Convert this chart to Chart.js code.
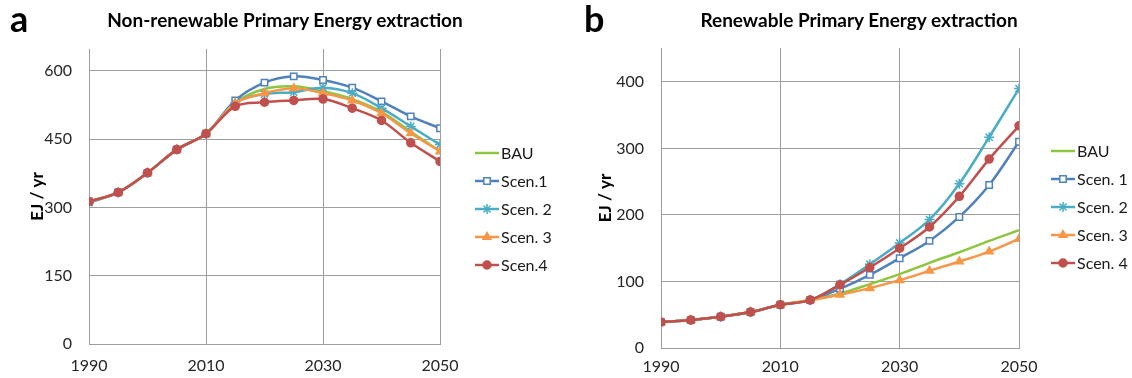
<!DOCTYPE html>
<html>
<head>
<meta charset="utf-8">
<script src="https://cdn.jsdelivr.net/npm/chart.js@4/dist/chart.umd.min.js"></script>
<style>
    body { margin: 0; background: #fff; font-family: Lato, sans-serif; }
    #page { position: relative; width: 1132px; height: 378px; overflow: hidden; }
    .panel { position: absolute; top: 0; height: 378px; }
    .letter { position: absolute; top: 0; font-size: 36px; line-height: 1; font-weight: bold; color: #000; }
    .title { position: absolute; top: 10px; font-size: 19px; line-height: 1; font-weight: bold; color: #000; white-space: nowrap; transform: translateX(-50%); }
</style>
</head>
<body>
<div id="page">
    <div class="panel" style="left:0;width:560px"><canvas id="nonrenew" width="560" height="378"></canvas></div>
    <div class="panel" style="left:560px;width:572px"><canvas id="renew" width="572" height="378"></canvas></div>
    <div class="letter" style="left:10px">a</div>
    <div class="letter" style="left:584px">b</div>
    <div class="title" style="left:285px">Non-renewable Primary Energy extraction</div>
    <div class="title" style="left:859px">Renewable Primary Energy extraction</div>
</div>
<script>
// years on the x axis (every 5 years)
let years = [1990, 1995, 2000, 2005, 2010, 2015, 2020, 2025, 2030, 2035, 2040, 2045, 2050]
let xTicks = [1990, 2010, 2030, 2050]

// non-renewable extraction, EJ / yr
let nrTicks = [0, 150, 300, 450, 600]
let nrBAU   = [313, 333, 376, 427, 462, 530, 560, 566, 555, 538, 510, 466, 424]
let nrScen1 = [313, 333, 376, 427, 462, 535, 574, 588, 580, 563, 533, 500, 474]
let nrScen2 = [310, 333, 376, 427, 462, 530, 549, 553, 563, 551, 518, 478, 438]
let nrScen3 = [313, 333, 376, 427, 462, 529, 551, 562, 551, 535, 507, 463, 423]
let nrScen4 = [313, 333, 376, 427, 462, 522, 531, 535, 538, 518, 491, 442, 401]
let nrLabels = ['BAU', 'Scen.1', 'Scen. 2', 'Scen. 3', 'Scen.4']

// renewable extraction, EJ / yr
let rTicks = [0, 100, 200, 300, 400]
let rBAU   = [39, 42, 47, 54, 65, 72, 82, 96, 111, 128, 144, 161, 177]
let rScen1 = [39, 42, 47, 54, 65, 72, 89, 110, 135, 161, 197, 245, 310]
let rScen2 = [39, 42, 47, 54, 65, 72, 96, 126, 158, 193, 247, 317, 390]
let rScen3 = [39, 42, 47, 54, 65, 72, 80, 90, 102, 116, 130, 145, 164]
let rScen4 = [39, 42, 47, 54, 65, 72, 95, 121, 150, 182, 228, 284, 334]
let rLabels = ['BAU', 'Scen. 1', 'Scen. 2', 'Scen. 3', 'Scen. 4']

// excel-ish series styles
let styles = [
    { color: '#8cc63f', point: false,      radius: 0,   fill: '#8cc63f' },
    { color: '#4f81bd', point: 'rect',     radius: 4.5, fill: '#ffffff' },
    { color: '#4bacc6', point: 'star',     radius: 5,   fill: '#4bacc6' },
    { color: '#f79646', point: 'triangle', radius: 4.5, fill: '#f79646' },
    { color: '#c0504d', point: 'circle',   radius: 4,   fill: '#c0504d' }
]

Chart.defaults.font.family = 'Lato'
Chart.defaults.color = '#262626'

function makeSets(labels, series) {
    return series.map(function(values, i) {
        let st = styles[i]
        return {
            label: labels[i],
            data: values.map(function(v, j) { return { x: years[j], y: v } }),
            // last series drawn on top, like excel
            order: series.length - i,
            borderColor: st.color,
            backgroundColor: st.fill,
            borderWidth: 2.5,
            tension: 0.35,
            pointStyle: st.point,
            pointRadius: st.radius,
            pointBorderWidth: 1.5,
            pointBorderColor: st.color,
            pointBackgroundColor: st.fill
        }
    })
}

// legend on the right: short line with the marker in the middle
let sideLegend = {
    id: 'sideLegend',
    afterDraw(chart, args, opts) {
        let ctx = chart.ctx
        let x0 = chart.chartArea.right + opts.dx
        chart.data.datasets.forEach(function(ds, i) {
            let y = opts.top + i * opts.gap
            ctx.save()
            ctx.strokeStyle = ds.borderColor
            ctx.lineWidth = 2.5
            ctx.beginPath()
            ctx.moveTo(x0, y)
            ctx.lineTo(x0 + 24, y)
            ctx.stroke()
            if (ds.pointStyle) {
                ctx.fillStyle = ds.pointBackgroundColor
                ctx.strokeStyle = ds.pointBorderColor
                ctx.lineWidth = ds.pointBorderWidth
                Chart.helpers.drawPoint(ctx, { pointStyle: ds.pointStyle, radius: ds.pointRadius, borderWidth: ds.pointBorderWidth, rotation: 0 }, x0 + 12, y)
            }
            ctx.fillStyle = '#1a1a1a'
            ctx.font = '16px Lato'
            ctx.textBaseline = 'middle'
            ctx.fillText(ds.label, x0 + 26, y + 1)
            ctx.restore()
        })
    }
}

function makeOptions(o) {
    return {
        responsive: false,
        animation: false,
        devicePixelRatio: 1,
        layout: { padding: { left: 0, top: o.top, right: o.right, bottom: 0 } },
        plugins: {
            legend: { display: false },
            tooltip: { enabled: false },
            sideLegend: { dx: o.legendDx, top: o.legendTop, gap: 28 }
        },
        scales: {
            x: {
                type: 'linear',
                min: 1990,
                max: 2050,
                afterBuildTicks: function(s) { s.ticks = xTicks.map(function(v) { return { value: v } }) },
                afterFit: function(s) { s.height = o.xHeight },
                grid: { color: '#9e9e9e', drawTicks: false },
                border: { color: '#9e9e9e' },
                ticks: { padding: o.xPad, font: { size: 16 }, maxRotation: 0, callback: function(v) { return String(v) } }
            },
            y: {
                min: 0,
                max: o.yMax,
                afterBuildTicks: function(s) { s.ticks = o.yTicks.map(function(v) { return { value: v } }) },
                afterFit: function(s) { s.width = o.yWidth },
                grid: { color: '#9e9e9e', drawTicks: false },
                border: { color: '#9e9e9e' },
                ticks: { padding: 17, font: { size: 16 } },
                title: { display: true, text: 'EJ / yr', color: '#000', font: { size: 17, weight: 'bold' }, padding: { top: o.titlePad } }
            }
        }
    }
}

var nonrenew_ctx = document.getElementById('nonrenew')
var nonrenew = new Chart(nonrenew_ctx, {
    type: 'line',
    data: { datasets: makeSets(nrLabels, [nrBAU, nrScen1, nrScen2, nrScen3, nrScen4]) },
    options: makeOptions({ top: 49, right: 120, xHeight: 34, xPad: 12, yWidth: 89, yMax: 648, yTicks: nrTicks, titlePad: 27, legendDx: 35, legendTop: 153 }),
    plugins: [sideLegend]
})

var renew_ctx = document.getElementById('renew')
var renew = new Chart(renew_ctx, {
    type: 'line',
    data: { datasets: makeSets(rLabels, [rBAU, rScen1, rScen2, rScen3, rScen4]) },
    options: makeOptions({ top: 48, right: 113, xHeight: 30, xPad: 9, yWidth: 101, yMax: 451, yTicks: rTicks, titlePad: 35, legendDx: 32, legendTop: 151 }),
    plugins: [sideLegend]
})
</script>
</body>
</html>
